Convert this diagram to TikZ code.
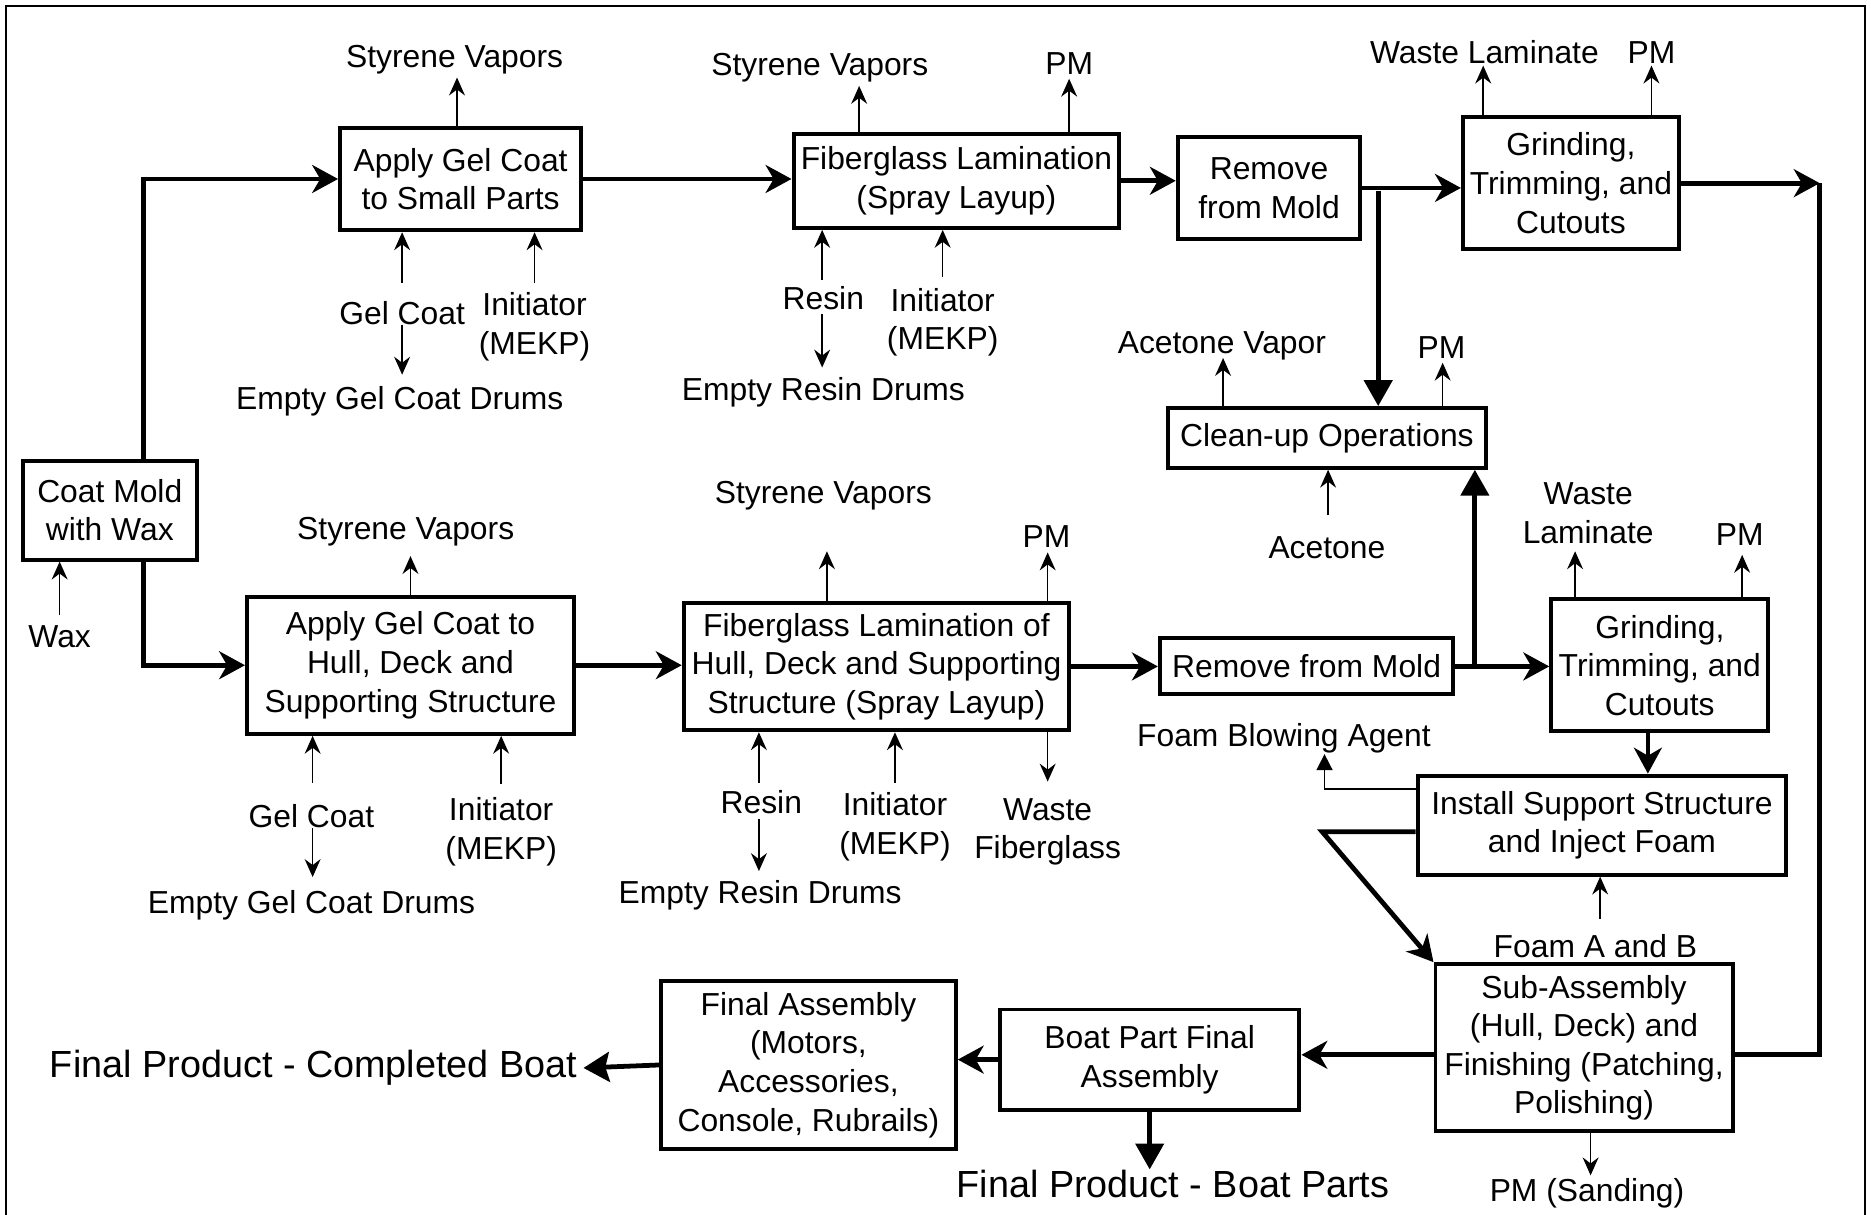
\documentclass[tikz,border=0pt]{standalone}
\usepackage{fontspec}
\setmainfont{Liberation Sans}
\usetikzlibrary{arrows.meta}
\newcommand\lblfont{\fontsize{16}{19.4}\selectfont}
\newcommand\bigfont{\fontsize{19}{22}\selectfont}
\begin{document}
\begin{tikzpicture}[x=0.6pt,y=-0.6pt,
  box/.style={draw,line width=2pt,align=center,inner sep=0pt,font=\lblfont},
  lab/.style={align=center,inner sep=0pt,font=\lblfont,yshift=-1.8pt},
  big/.style={align=center,inner sep=0pt,font=\bigfont,yshift=-1.2pt},
  flow/.style={line width=2.4pt,-{Stealth[length=13pt,width=14pt,inset=4pt]}},
  flowline/.style={line width=2.4pt},
  tri/.style={line width=2.4pt,-{Triangle[length=13pt,width=14pt]}},
  endarr/.style={line width=2.4pt,-{Stealth[length=13pt,width=15pt,inset=2pt]}},
  tarr/.style={line width=0.8pt,-{Stealth[length=9pt,width=8pt,inset=3pt]}},
  ftri/.style={line width=0.8pt,-{Triangle[length=8pt,width=8pt]}}]
\useasboundingbox (0,0) rectangle (1568,1018);
\draw[line width=0.8pt] (5,1018) -- (5,5) -- (1563,5) -- (1563,1018);

% ---------- boxes ----------
\node[box,minimum width=87.6pt,minimum height=49.8pt] (coat) at (92,427.5) {Coat Mold\\with Wax};
\node[box,minimum width=121.2pt,minimum height=51.6pt] (apsm) at (386,150) {Apply Gel Coat\\to Small Parts};
\node[box,minimum width=163.8pt,minimum height=47.4pt] (fgsm) at (801.5,151.5) {Fiberglass Lamination\\(Spray Layup)};
\node[box,minimum width=91.8pt,minimum height=51pt] (rmsm) at (1063.5,157.5) {Remove\\from Mold};
\node[box,minimum width=108.6pt,minimum height=66.6pt] (grsm) at (1316.5,153.5) {Grinding,\\Trimming, and\\Cutouts};
\node[box,minimum width=159.6pt,minimum height=30pt] (clean) at (1112,367) {Clean-up Operations};
\node[box,minimum width=164.4pt,minimum height=69pt] (aphl) at (344,557.5) {Apply Gel Coat to\\Hull, Deck and\\Supporting Structure};
\node[box,minimum width=193.8pt,minimum height=64.2pt] (fghl) at (734.5,558.5) {Fiberglass Lamination of\\Hull, Deck and Supporting\\Structure (Spray Layup)};
\node[box,minimum width=147.6pt,minimum height=28.2pt] (rmhl) at (1095,558.5) {Remove from Mold};
\node[box,minimum width=109.2pt,minimum height=66.6pt] (grhl) at (1391,557.5) {Grinding,\\Trimming, and\\Cutouts};
\node[box,minimum width=185.4pt,minimum height=49.8pt] (inst) at (1342.5,691.5) {Install Support Structure\\and Inject Foam};
\node[box,minimum width=149.4pt,minimum height=84pt] (sub) at (1327.5,878) {Sub-Assembly\\(Hull, Deck) and\\Finishing (Patching,\\Polishing)};
\node[box,minimum width=150.6pt,minimum height=50.4pt] (bpfa) at (963.5,888) {Boat Part Final\\Assembly};
\node[box,minimum width=148.2pt,minimum height=84.6pt] (fa) at (677.5,892.5) {Final Assembly\\(Motors,\\Accessories,\\Console, Rubrails)};

% ---------- labels ----------
\node[lab] (l1) at (381,47) {Styrene Vapors};
\node[lab] (l2) at (337,259) {Gel Coat};
\node[lab] (l3) at (448,271) {Initiator\\(MEKP)};
\node[lab] (l4) at (335,333) {Empty Gel Coat Drums};
\node[lab] (l5) at (687,54) {Styrene Vapors};
\node[lab] (l6) at (896,50) {PM};
\node[lab] (l7) at (690,247) {Resin};
\node[lab] (l8) at (790,267) {Initiator\\(MEKP)};
\node[lab] (l9) at (690,326) {Empty Resin Drums};
\node[lab] (l10) at (1244,41) {Waste Laminate};
\node[lab] (l11) at (1384,41) {PM};
\node[lab] (l12) at (1024,287) {Acetone Vapor};
\node[lab] (l13) at (1208,288) {PM};
\node[lab] (l14) at (1112,456) {Acetone};
\node[lab] (l15) at (340,443) {Styrene Vapors};
\node[lab] (l16) at (261,681) {Gel Coat};
\node[lab] (l17) at (420,694) {Initiator\\(MEKP)};
\node[lab] (l18) at (261,756) {Empty Gel Coat Drums};
\node[lab] (l19) at (690,412) {Styrene Vapors};
\node[lab] (l20) at (877,447) {PM};
\node[lab] (l21) at (638,669) {Resin};
\node[lab] (l22) at (750,690) {Initiator\\(MEKP)};
\node[lab] (l23) at (878,694) {Waste\\Fiberglass};
\node[lab] (l24) at (637,747) {Empty Resin Drums};
\node[lab] (l25) at (1331,427) {Waste\\Laminate};
\node[lab] (l26) at (1458,445) {PM};
\node[lab] (l27) at (1076,616) {Foam Blowing Agent};
\node[lab] (l28) at (1337,790) {Foam A and B};
\node[lab] (l29) at (1330,997) {PM (Sanding)};
\node[lab] (l30) at (50,531) {Wax};
\node[big,anchor=east] (fpcb) at (484,893) {Final Product - Completed Boat};
\node[big] (fpbp) at (983,990) {Final Product - Boat Parts};

% ---------- main flow ----------
\coordinate (c1) at (120,0);
\draw[flow] (coat.north -| c1) |- (apsm.west);
\draw[flow] (coat.south -| c1) |- (aphl.west);
\draw[flow] (apsm.east) -- (apsm.east -| fgsm.west);
\draw[flow] (fgsm.east) -- (fgsm.east -| rmsm.west);
\draw[flow] (rmsm.east) -- (rmsm.east -| grsm.west);
\coordinate (k1) at (1155,160);
\draw[tri] (k1) -- (k1 |- clean.north);
\coordinate (c3) at (1525,150);
\coordinate (c4) at (1525,884);
\draw[flow] (grsm.east) -- (grsm.east -| c3);
\draw[flowline] (grsm.east -| c3) -- (c4) -- (c4 -| sub.east);
\draw[flow] (aphl.east) -- (aphl.east -| fghl.west);
\draw[flow] (fghl.east) -- (fghl.east -| rmhl.west);
\draw[flow] (rmhl.east) -- (rmhl.east -| grhl.west);
\coordinate (k2) at (1236,0);
\draw[tri] (rmhl.east -| k2) -- (k2 |- clean.south);
\coordinate (c6) at (1381,0);
\draw[flow] (grhl.south -| c6) -- (c6 |- inst.north);
\coordinate (fb1) at (0,661);
\coordinate (fb2) at (1110,632);
\draw[ftri] (inst.west |- fb1) -| (fb2);
\coordinate (dg1) at (0,697);
\coordinate (dg2) at (1108,697);
\draw[flow] (inst.west |- dg1) -- (dg2) -- (sub.north west);
\draw[flow] (sub.west |- c4) -- (bpfa.east |- c4);
\draw[flow] (bpfa.west) -- (bpfa.west -| fa.east);
\draw[tri] (bpfa.south) -- (bpfa.south |- fpbp.north);
\draw[endarr] (fa.west) -- ([xshift=3pt]fpcb.east);

% ---------- thin outputs (up) ----------
\coordinate (a1) at (383,65);   \draw[tarr] (a1 |- apsm.north) -- (a1);
\coordinate (a2) at (720,72);   \draw[tarr] (a2 |- fgsm.north) -- (a2);
\coordinate (a3) at (896,66);   \draw[tarr] (a3 |- fgsm.north) -- (a3);
\coordinate (a4) at (1243,55);  \draw[tarr] (a4 |- grsm.north) -- (a4);
\coordinate (a5) at (1384,55);  \draw[tarr] (a5 |- grsm.north) -- (a5);
\coordinate (a6) at (1025,300); \draw[tarr] (a6 |- clean.north) -- (a6);
\coordinate (a7) at (1209,304); \draw[tarr] (a7 |- clean.north) -- (a7);
\coordinate (a8) at (344,466);  \draw[tarr] (a8 |- aphl.north) -- (a8);
\coordinate (a9) at (693,462);  \draw[tarr] (a9 |- fghl.north) -- (a9);
\coordinate (a10) at (878,463); \draw[tarr] (a10 |- fghl.north) -- (a10);
\coordinate (a11) at (1320,462);\draw[tarr] (a11 |- grhl.north) -- (a11);
\coordinate (a12) at (1460,465);\draw[tarr] (a12 |- grhl.north) -- (a12);

% ---------- thin inputs (up into boxes) ----------
\coordinate (b1) at (337,237);  \draw[tarr] (b1) -- (b1 |- apsm.south);
\coordinate (b2) at (448,237);  \draw[tarr] (b2) -- (b2 |- apsm.south);
\coordinate (b3) at (689,235);  \draw[tarr] (b3) -- (b3 |- fgsm.south);
\coordinate (b4) at (790,232);  \draw[tarr] (b4) -- (b4 |- fgsm.south);
\coordinate (b5) at (1113,432); \draw[tarr] (b5) -- (b5 |- clean.south);
\coordinate (b6) at (262,656);  \draw[tarr] (b6) -- (b6 |- aphl.south);
\coordinate (b7) at (420,657);  \draw[tarr] (b7) -- (b7 |- aphl.south);
\coordinate (b8) at (636,656);  \draw[tarr] (b8) -- (b8 |- fghl.south);
\coordinate (b9) at (750,656);  \draw[tarr] (b9) -- (b9 |- fghl.south);
\coordinate (b10) at (1341,770);\draw[tarr] (b10) -- (b10 |- inst.south);
\coordinate (b11) at (50,515);  \draw[tarr] (b11) -- (b11 |- coat.south);

% ---------- thin downward arrows ----------
\coordinate (d1a) at (337,272); \coordinate (d1b) at (337,314); \draw[tarr] (d1a) -- (d1b);
\coordinate (d2a) at (689,263); \coordinate (d2b) at (689,308); \draw[tarr] (d2a) -- (d2b);
\coordinate (d3a) at (262,694); \coordinate (d3b) at (262,735); \draw[tarr] (d3a) -- (d3b);
\coordinate (d4a) at (636,686); \coordinate (d4b) at (636,730); \draw[tarr] (d4a) -- (d4b);
\coordinate (d5) at (878,655);  \draw[tarr] (d5 |- fghl.south) -- (d5);
\coordinate (d6) at (1333,985); \draw[tarr] (d6 |- sub.south) -- (d6);
\end{tikzpicture}
\end{document}
